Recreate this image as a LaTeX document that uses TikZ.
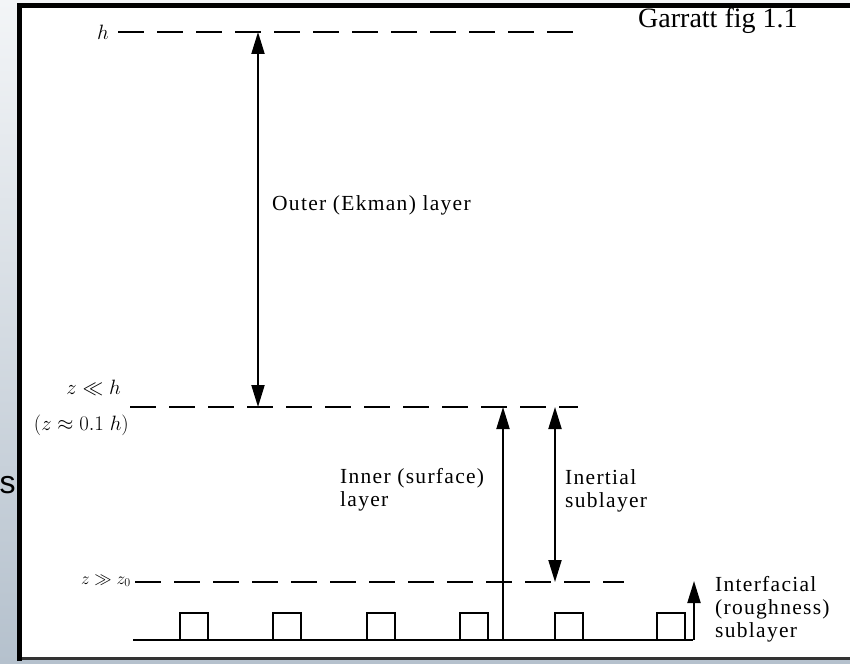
\documentclass[tikz,border=0pt]{standalone}
\usepackage{amsmath}
\usepackage{amssymb}
\usepackage{fontspec}
\setmainfont{Liberation Serif}
\newfontfamily\slidefont{Liberation Sans}
\usepackage{tikz}
\usepackage{xcolor}
\usetikzlibrary{arrows.meta}

\definecolor{slidetop}{HTML}{F3F5F7}
\definecolor{slidebot}{HTML}{B5C1CD}

\tikzset{
  level/.style={line width=2.6pt,dash pattern=on 26pt off 13pt},
  span/.style={line width=2pt,{Triangle[width=13pt,length=22pt]}-{Triangle[width=13pt,length=22pt]}},
  rise/.style={line width=2pt,-{Triangle[width=13pt,length=22pt]}},
  lab/.style={font=\fontsize{21.5}{23}\selectfont\addfontfeature{LetterSpace=6},align=left,anchor=west,inner sep=0pt},
  zlab/.style={font=\fontsize{21}{23}\selectfont,anchor=east,inner sep=0pt},
}

\begin{document}
\begin{tikzpicture}[x=1pt,y=-1pt]
\useasboundingbox (0,0) rectangle (850,663);
% slide behind the scan
\shade[top color=slidetop,bottom color=slidebot] (0,0) rectangle (850,663);
\node[font=\slidefont\fontsize{32}{34}\selectfont,anchor=base west,inner sep=0pt] (slide) at (-0.5,493) {s};
\fill[white] (22,8) rectangle (850,657);
\draw[line width=5pt] (19.5,661) -- (19.5,5.5) -- (850,5.5);
\draw[line width=2.5pt,black!80] (22,658.5) -- (850,658.5);
\node[font=\fontsize{28}{30}\selectfont,anchor=north west,inner sep=0pt] (fig) at (638,8) {Garratt fig 1.1};

% levels
\coordinate (hL) at (118,32);
\coordinate (hR) at (582,32);
\coordinate (mL) at (130,407);
\coordinate (mR) at (578,407);
\coordinate (sL) at (135,582);
\coordinate (sR) at (624,582);
\draw[level] (hL) -- (hR);
\draw[level] (mL) -- (mR);
\draw[level] (sL) -- (sR);
\node[zlab] (hlab) at (109,32) {$h$};
\node[zlab] (mlab) at (121,388) {$z \ll h$};
\node[zlab] (mlab2) at (129,425) {$(z \approx 0.1\;h)$};
\node[zlab,font=\fontsize{17}{19}\selectfont] (slab) at (131,581) {$z \gg z_0$};

% ground with roughness elements
\coordinate (gL) at (133,640);
\coordinate (gR) at (693,640);
\draw[line width=2.6pt] (gL) -- (gR);
\foreach \x in {180,273,367,460,555,657}
  \draw[line width=2.6pt] (\x,640) -- (\x,613) -- (\x+28,613) -- (\x+28,640);

% layer arrows
\coordinate (outerT) at (258,32);
\coordinate (outerB) at (258,407);
\coordinate (innerB) at (503,640);
\coordinate (innerT) at (503,407);
\coordinate (inertT) at (555,407);
\coordinate (inertB) at (555,582);
\coordinate (roughB) at (694,640);
\coordinate (roughT) at (694,581);
\draw[span] (outerT) -- (outerB);
\draw[rise] (innerB) -- (innerT);
\draw[span] (inertT) -- (inertB);
\draw[rise] (roughB) -- (roughT);

\node[lab] (outer) at (272,205) {Outer (Ekman) layer};
\node[lab] (inner) at (340,490) {Inner (surface)\\layer};
\node[lab] (inert) at (565,491) {Inertial\\sublayer};
\node[lab] (rough) at (715,609) {Interfacial\\(roughness)\\sublayer};
\end{tikzpicture}
\end{document}
